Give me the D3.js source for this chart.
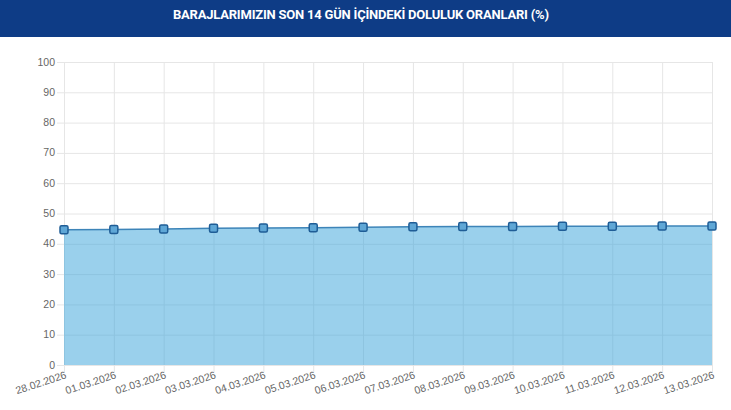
<!DOCTYPE html>
<html>
<head>
<meta charset="utf-8">
<script src="https://cdn.jsdelivr.net/npm/d3@7"></script>
<style>
  body { margin: 0; background: #fff; }
  svg { display: block; }
</style>
</head>
<body>
<svg width="731" height="410"></svg>
<script>
var dates = ["28.02.2026", "01.03.2026", "02.03.2026", "03.03.2026", "04.03.2026",
  "05.03.2026", "06.03.2026", "07.03.2026", "08.03.2026", "09.03.2026",
  "10.03.2026", "11.03.2026", "12.03.2026", "13.03.2026"];
var fillRates = [44.6, 44.7, 44.9, 45.1, 45.2, 45.3, 45.5, 45.6, 45.7, 45.7, 45.8, 45.8, 45.9, 45.9];
var yTicks = [0, 10, 20, 30, 40, 50, 60, 70, 80, 90, 100];
var title = "BARAJLARIMIZIN SON 14 GÜN İÇİNDEKİ DOLULUK ORANLARI (%)";

var svg = d3.select("svg");
var plotLeft = 64, plotRight = 712, plotTop = 62, plotBottom = 365;

// header band
svg.append("rect").attr("x", 0).attr("y", 0).attr("width", 731).attr("height", 37)
  .attr("fill", "#0e3c86");
svg.append("text").attr("x", 361).attr("y", 19)
  .attr("text-anchor", "middle").attr("fill", "#fff")
  .attr("font-family", "Roboto, sans-serif").attr("font-weight", "bold")
  .attr("font-size", 13).attr("textLength", 376)
  .text(title);

var x = d3.scalePoint().domain(dates).range([plotLeft, plotRight]);
var y = d3.scaleLinear().domain([0, 100]).range([plotBottom, plotTop]);

// grid
var grid = svg.append("g");
grid.selectAll("line.h").data(yTicks).enter().append("line")
  .attr("x1", plotLeft - 7).attr("x2", plotRight)
  .attr("y1", function (d) { return y(d) + 0.5; })
  .attr("y2", function (d) { return y(d) + 0.5; })
  .attr("stroke", "#e6e6e6");
grid.selectAll("line.v").data(dates).enter().append("line")
  .attr("x1", function (d) { return x(d) + 0.5; })
  .attr("x2", function (d) { return x(d) + 0.5; })
  .attr("y1", plotTop).attr("y2", plotBottom + 7)
  .attr("stroke", "#e6e6e6");

// area + line
var area = d3.area()
  .x(function (d, i) { return x(dates[i]); })
  .y0(y(0))
  .y1(function (d) { return y(d); });
var line = d3.line()
  .x(function (d, i) { return x(dates[i]); })
  .y(function (d) { return y(d); });

svg.append("path").datum(fillRates).attr("d", area)
  .attr("fill", "rgba(54,162,218,0.5)");
svg.append("path").datum(fillRates).attr("d", line)
  .attr("fill", "none").attr("stroke", "#3d84b8").attr("stroke-width", 1.5);

// point markers
svg.selectAll("rect.pt").data(fillRates).enter().append("rect")
  .attr("x", function (d, i) { return x(dates[i]) - 4; })
  .attr("y", function (d) { return y(d) - 4; })
  .attr("width", 8).attr("height", 8).attr("rx", 1.5)
  .attr("fill", "#5fa7d6").attr("stroke", "#1f5d96").attr("stroke-width", 1.5);

// y axis labels
svg.selectAll("text.yl").data(yTicks).enter().append("text")
  .attr("x", 55).attr("y", function (d) { return y(d) + 3.5; })
  .attr("text-anchor", "end").attr("fill", "#666")
  .attr("font-family", "Arial, 'Liberation Sans', sans-serif").attr("font-size", 10.5)
  .text(function (d) { return d; });

// x axis labels, rotated
svg.selectAll("text.xl").data(dates).enter().append("text")
  .attr("transform", function (d) { return "translate(" + (x(d) + 3) + "," + (plotBottom + 13) + ") rotate(-18)"; })
  .attr("text-anchor", "end").attr("fill", "#666")
  .attr("font-family", "Arial, 'Liberation Sans', sans-serif").attr("font-size", 10.5)
  .text(function (d) { return d; });
</script>
</body>
</html>
